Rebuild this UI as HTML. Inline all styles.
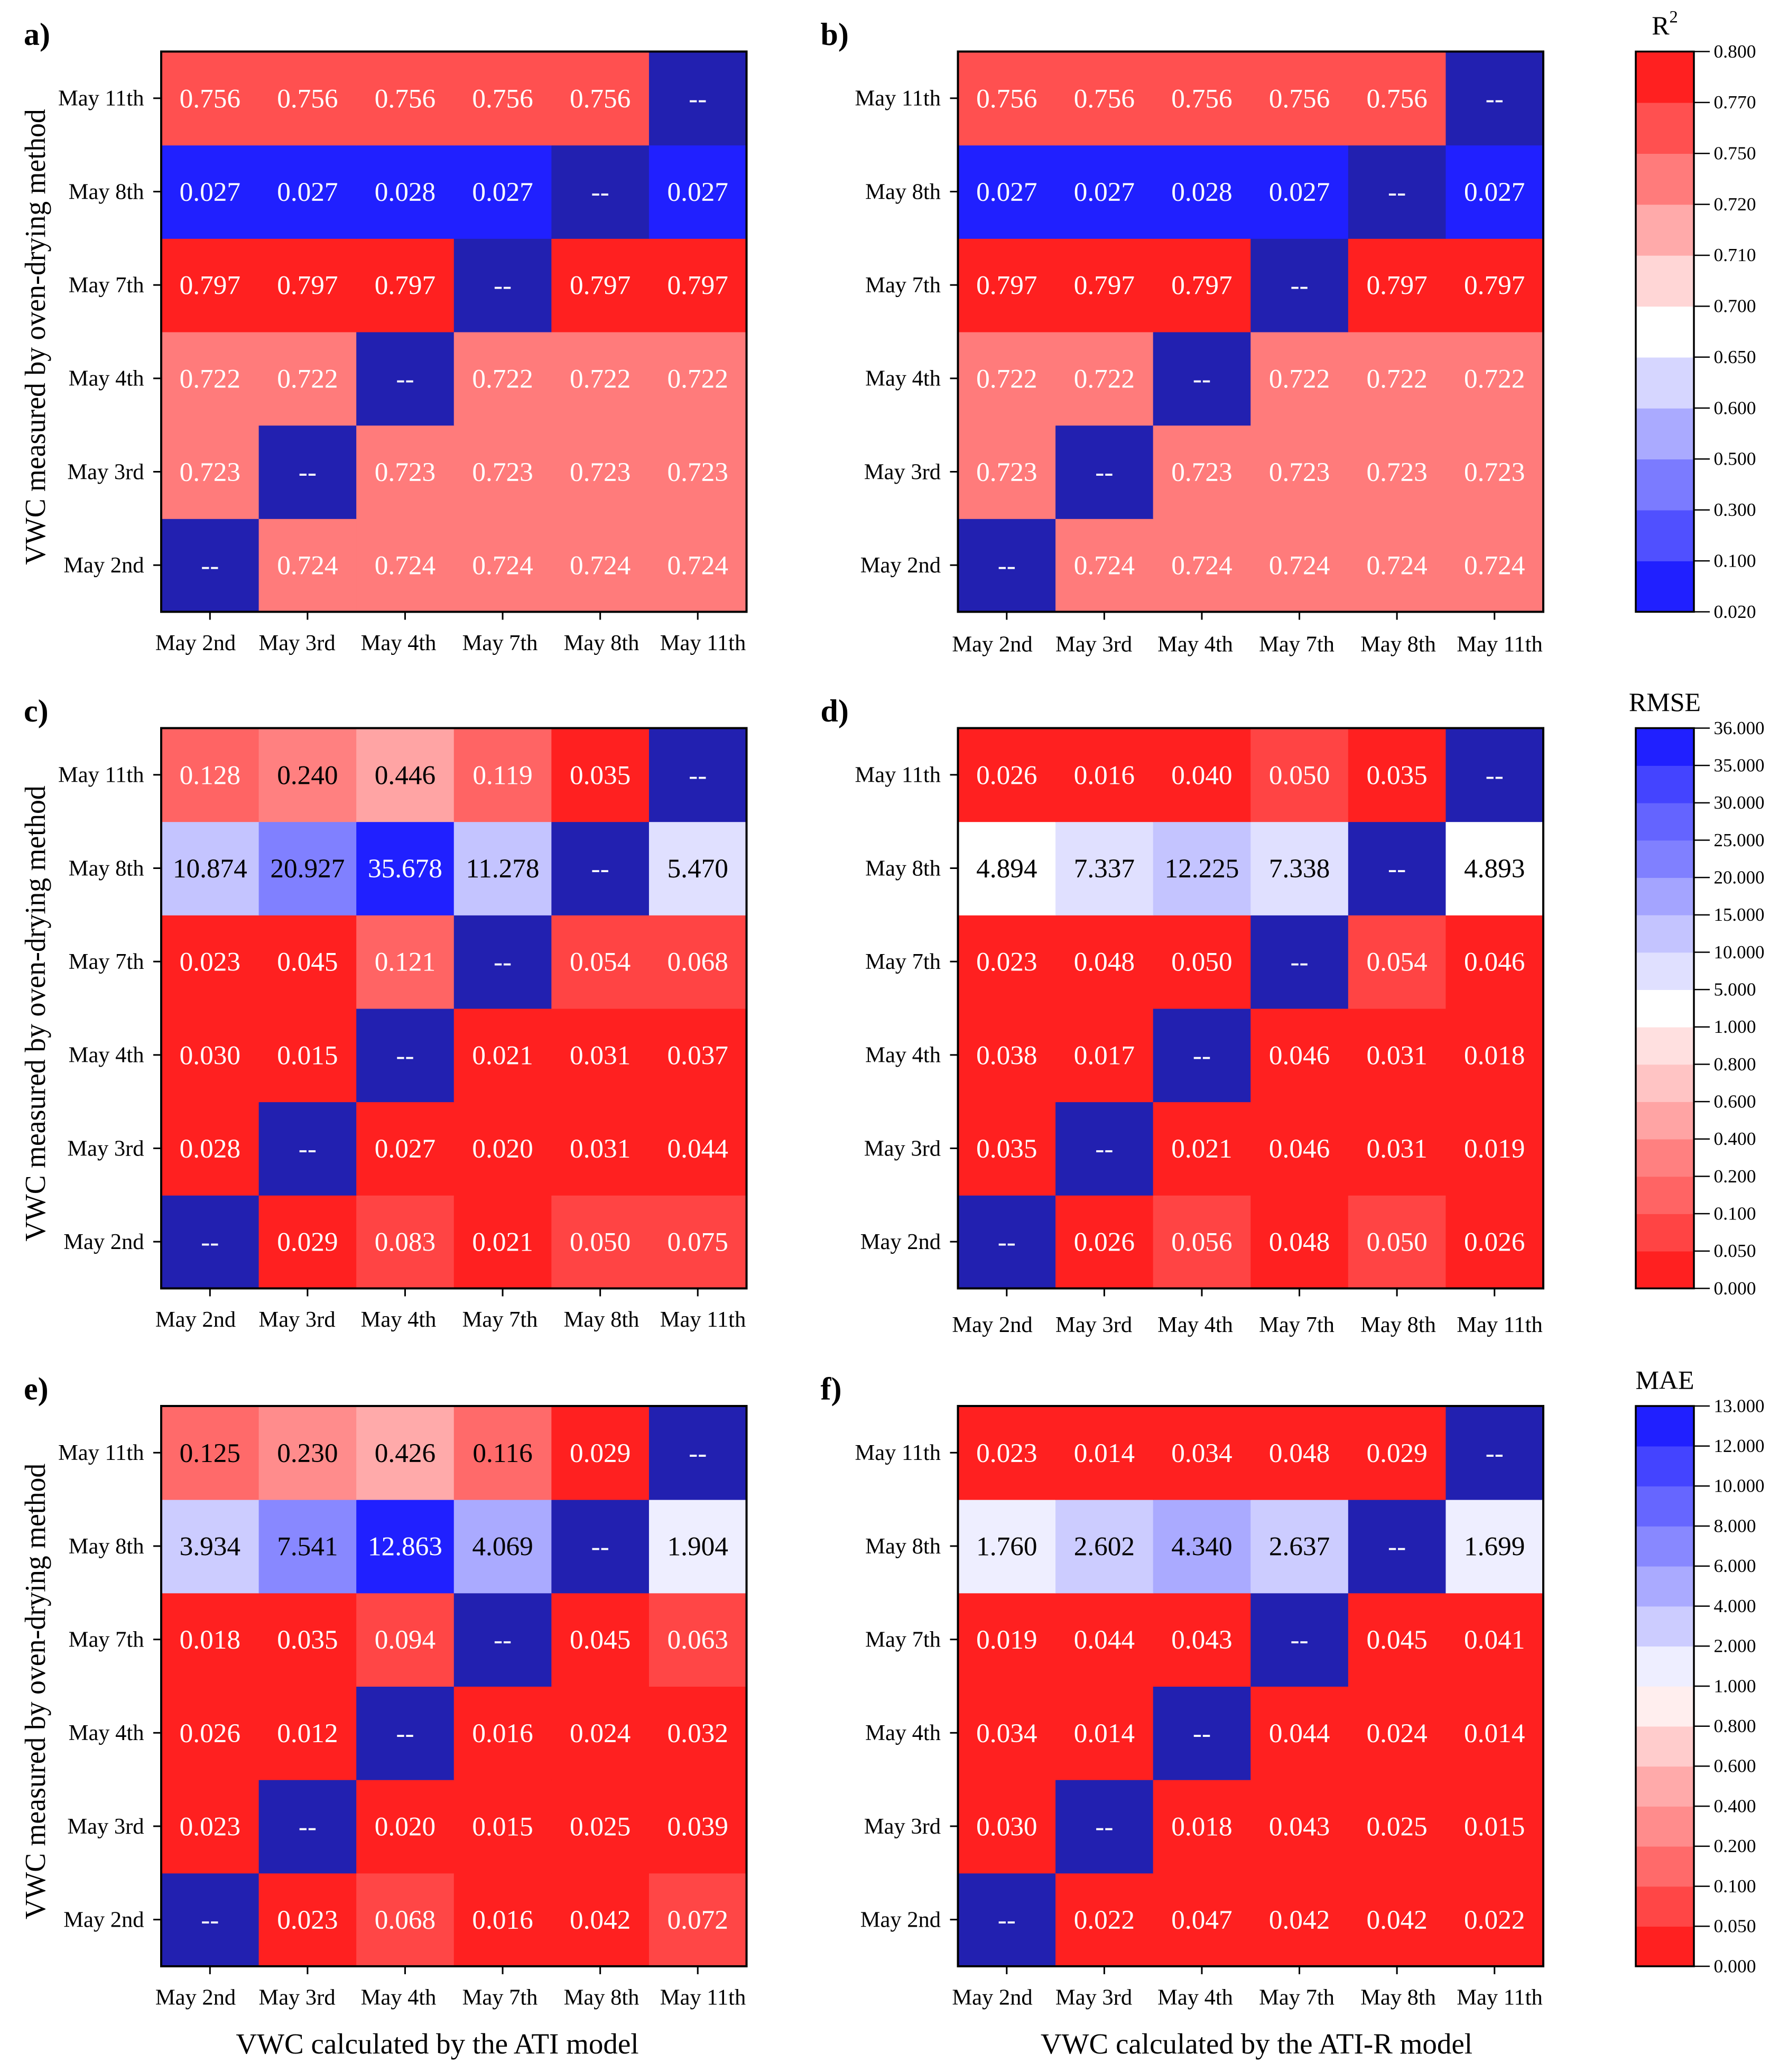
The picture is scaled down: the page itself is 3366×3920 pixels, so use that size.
<!DOCTYPE html>
<html><head><meta charset="utf-8"><style>html,body{margin:0;padding:0;background:#fff}svg{display:block}</style></head>
<body>
<svg id="fig" xmlns="http://www.w3.org/2000/svg" width="3366" height="3920" viewBox="0 0 1346.4 1568" preserveAspectRatio="none" font-family="'Liberation Serif', serif"></svg>
<script>
const dates = ["May 2nd","May 3rd","May 4th","May 7th","May 8th","May 11th"];
const r2Ticks = [0.02,0.1,0.3,0.5,0.6,0.65,0.7,0.71,0.72,0.75,0.77,0.8];
const r2Colors = ["#2020ff","#5050ff","#7b7bff","#aaaaff","#d6d6ff","#ffffff","#ffd6d6","#ffaaaa","#ff7b7b","#ff5050","#ff2020"];
const rmseTicks = [0,0.05,0.1,0.2,0.4,0.6,0.8,1,5,10,15,20,25,30,35,36];
const rmseColors = ["#ff2020","#ff4444","#ff6464","#ff8080","#ffa4a4","#ffc4c4","#ffe0e0","#ffffff","#e0e0ff","#c4c4ff","#a4a4ff","#8080ff","#6464ff","#4444ff","#2020ff"];
const maeTicks = [0,0.05,0.1,0.2,0.4,0.6,0.8,1,2,4,6,8,10,12,13];
const maeColors = ["#ff2020","#ff4646","#ff6a6a","#ff8c8c","#ffaaaa","#ffcccc","#ffeeee","#eeeeff","#ccccff","#aaaaff","#8888ff","#6666ff","#4444ff","#2020ff"];
// rows: May 2nd .. May 11th (bottom to top); columns: May 2nd .. May 11th
const valsA = [[null,0.724,0.724,0.724,0.724,0.724],[0.723,null,0.723,0.723,0.723,0.723],[0.722,0.722,null,0.722,0.722,0.722],[0.797,0.797,0.797,null,0.797,0.797],[0.027,0.027,0.028,0.027,null,0.027],[0.756,0.756,0.756,0.756,0.756,null]];
const valsB = [[null,0.724,0.724,0.724,0.724,0.724],[0.723,null,0.723,0.723,0.723,0.723],[0.722,0.722,null,0.722,0.722,0.722],[0.797,0.797,0.797,null,0.797,0.797],[0.027,0.027,0.028,0.027,null,0.027],[0.756,0.756,0.756,0.756,0.756,null]];
const valsC = [[null,0.029,0.083,0.021,0.050,0.075],[0.028,null,0.027,0.020,0.031,0.044],[0.030,0.015,null,0.021,0.031,0.037],[0.023,0.045,0.121,null,0.054,0.068],[10.874,20.927,35.678,11.278,null,5.470],[0.128,0.240,0.446,0.119,0.035,null]];
const valsD = [[null,0.026,0.056,0.048,0.050,0.026],[0.035,null,0.021,0.046,0.031,0.019],[0.038,0.017,null,0.046,0.031,0.018],[0.023,0.048,0.0499,null,0.054,0.046],[4.894,7.337,12.225,7.338,null,4.893],[0.026,0.016,0.040,0.050,0.035,null]];
const valsE = [[null,0.023,0.068,0.016,0.042,0.072],[0.023,null,0.020,0.015,0.025,0.039],[0.026,0.012,null,0.016,0.024,0.032],[0.018,0.035,0.094,null,0.045,0.063],[3.934,7.541,12.863,4.069,null,1.904],[0.125,0.230,0.426,0.116,0.029,null]];
const valsF = [[null,0.022,0.047,0.042,0.042,0.022],[0.030,null,0.018,0.043,0.025,0.015],[0.034,0.014,null,0.044,0.024,0.014],[0.019,0.044,0.043,null,0.045,0.041],[1.760,2.602,4.340,2.637,null,1.699],[0.023,0.014,0.034,0.048,0.029,null]];

const NS="http://www.w3.org/2000/svg";
const svg=document.getElementById('fig');
function mk(tag,attrs,parent){const e=document.createElementNS(NS,tag);for(const k in attrs)e.setAttribute(k,attrs[k]);(parent||svg).appendChild(e);return e;}
function binOf(v,ticks){for(let i=ticks.length-2;i>=0;i--){if(v>=ticks[i])return i;}return 0;}
function minCh(hex){const r=parseInt(hex.substr(1,2),16),g=parseInt(hex.substr(3,2),16),b=parseInt(hex.substr(5,2),16);return Math.min(r,g,b);}

const PW=443, PH=424;
function panel(id,x0,y0,vals,ticks,colors,thr,letter,tickDy){
  const g=mk('g',{});
  
  
  const cw=PW/dates.length, ch=PH/dates.length;
  const xS=c=>x0+c*cw, yS=r=>y0+PH-(r+1)*ch;
  for(let r=0;r<dates.length;r++){
    for(let c=0;c<dates.length;c++){
      const v=vals[r][c];
      const col = v===null ? '#2220b0' : colors[binOf(v,ticks)];
      const rc=mk('rect',{x:xS(c),y:yS(r),width:cw+0.4,height:ch+0.4,fill:col},g);
      
      
      const txt = v===null ? '--' : v.toFixed(3);
      const tc = v===null ? '#fff' : (minCh(col)>=thr ? '#000' : '#fff');
      const t=mk('text',{x:xS(c)+cw/2,y:yS(r)+ch/2+7,'text-anchor':'middle','font-size':20.5,fill:tc},g);
      t.textContent=txt;
      
      
    }
  }
  mk('rect',{x:x0,y:y0,width:PW,height:PH,fill:'none',stroke:'#000','stroke-width':1.6},g);
  for(let i=0;i<dates.length;i++){
    const yc=yS(i)+ch/2;
    mk('line',{x1:x0-6,x2:x0,y1:yc,y2:yc,stroke:'#000','stroke-width':1.2},g);
    const t=mk('text',{x:x0-13,y:yc+5.5,'text-anchor':'end','font-size':17},g);
    t.textContent=dates[i];
    
    
    const xc=xS(i)+cw/2;
    mk('line',{x1:xc,x2:xc,y1:y0+PH,y2:y0+PH+6,stroke:'#000','stroke-width':1.2},g);
    const t2=mk('text',{x:x0+26+i*76.8,y:y0+PH+tickDy,'text-anchor':'middle','font-size':17},g);
    t2.textContent=dates[i];
    
    
  }
  const L=mk('text',{x:x0-104,y:y0-5,'font-size':24,'font-weight':'bold'},g);
  L.textContent=letter;
  
  
}
function colorbar(id,y0,ticks,colors,title,sup){
  const g=mk('g',{});
  
  
  const x0=1238,w=44,h=PH,n=colors.length,bh=h/n;
  for(let i=0;i<n;i++){
    const r=mk('rect',{x:x0,y:y0+h-(i+1)*bh,width:w,height:bh+0.3,fill:colors[i]},g);
    
    
  }
  mk('rect',{x:x0,y:y0,width:w,height:h,fill:'none',stroke:'#000','stroke-width':1.4},g);
  for(let i=0;i<ticks.length;i++){
    const y=y0+h-i*bh;
    mk('line',{x1:x0+w,x2:x0+w+12,y1:y,y2:y,stroke:'#000','stroke-width':1},g);
    const s=ticks[i].toFixed(3);
    const t=mk('text',{x:1297,y:y+4.5,'font-size':14,textLength:s.length*6.4,lengthAdjust:'spacingAndGlyphs'},g);
    t.textContent=s;
    
    
  }
  const T=mk('text',{x:x0+w/2,y:y0-13,'text-anchor':'middle','font-size':20},g);
  T.textContent=title;
  if(sup){const ts=mk('tspan',{dy:-9,'font-size':13},T);ts.textContent=sup;}
  
  
}
const tops=[39,551,1064];
panel('a',122,tops[0],valsA,r2Ticks,r2Colors,230,'a)',29);
panel('b',725,tops[0],valsB,r2Ticks,r2Colors,230,'b)',30);
panel('c',122,tops[1],valsC,rmseTicks,rmseColors,128,'c)',29);
panel('d',725,tops[1],valsD,rmseTicks,rmseColors,128,'d)',33);
panel('e',122,tops[2],valsE,maeTicks,maeColors,100,'e)',29);
panel('f',725,tops[2],valsF,maeTicks,maeColors,100,'f)',29);
colorbar('r2',tops[0],r2Ticks,r2Colors,'R','2');
colorbar('rmse',tops[1],rmseTicks,rmseColors,'RMSE');
colorbar('mae',tops[2],maeTicks,maeColors,'MAE');
tops.forEach((t,i)=>{
  const cy=t+PH/2+4;
  const yt=mk('text',{x:0,y:0,transform:`translate(34,${cy}) rotate(-90)`,'text-anchor':'middle','font-size':22,textLength:345,lengthAdjust:'spacingAndGlyphs'});
  yt.textContent='VWC measured by oven-drying method';
  
  
});
const x1=mk('text',{x:331,y:1554,'text-anchor':'middle','font-size':22});
x1.textContent='VWC calculated by the ATI model';


const x2=mk('text',{x:951,y:1554,'text-anchor':'middle','font-size':22});
x2.textContent='VWC calculated by the ATI-R model';


</script>
</body></html>
